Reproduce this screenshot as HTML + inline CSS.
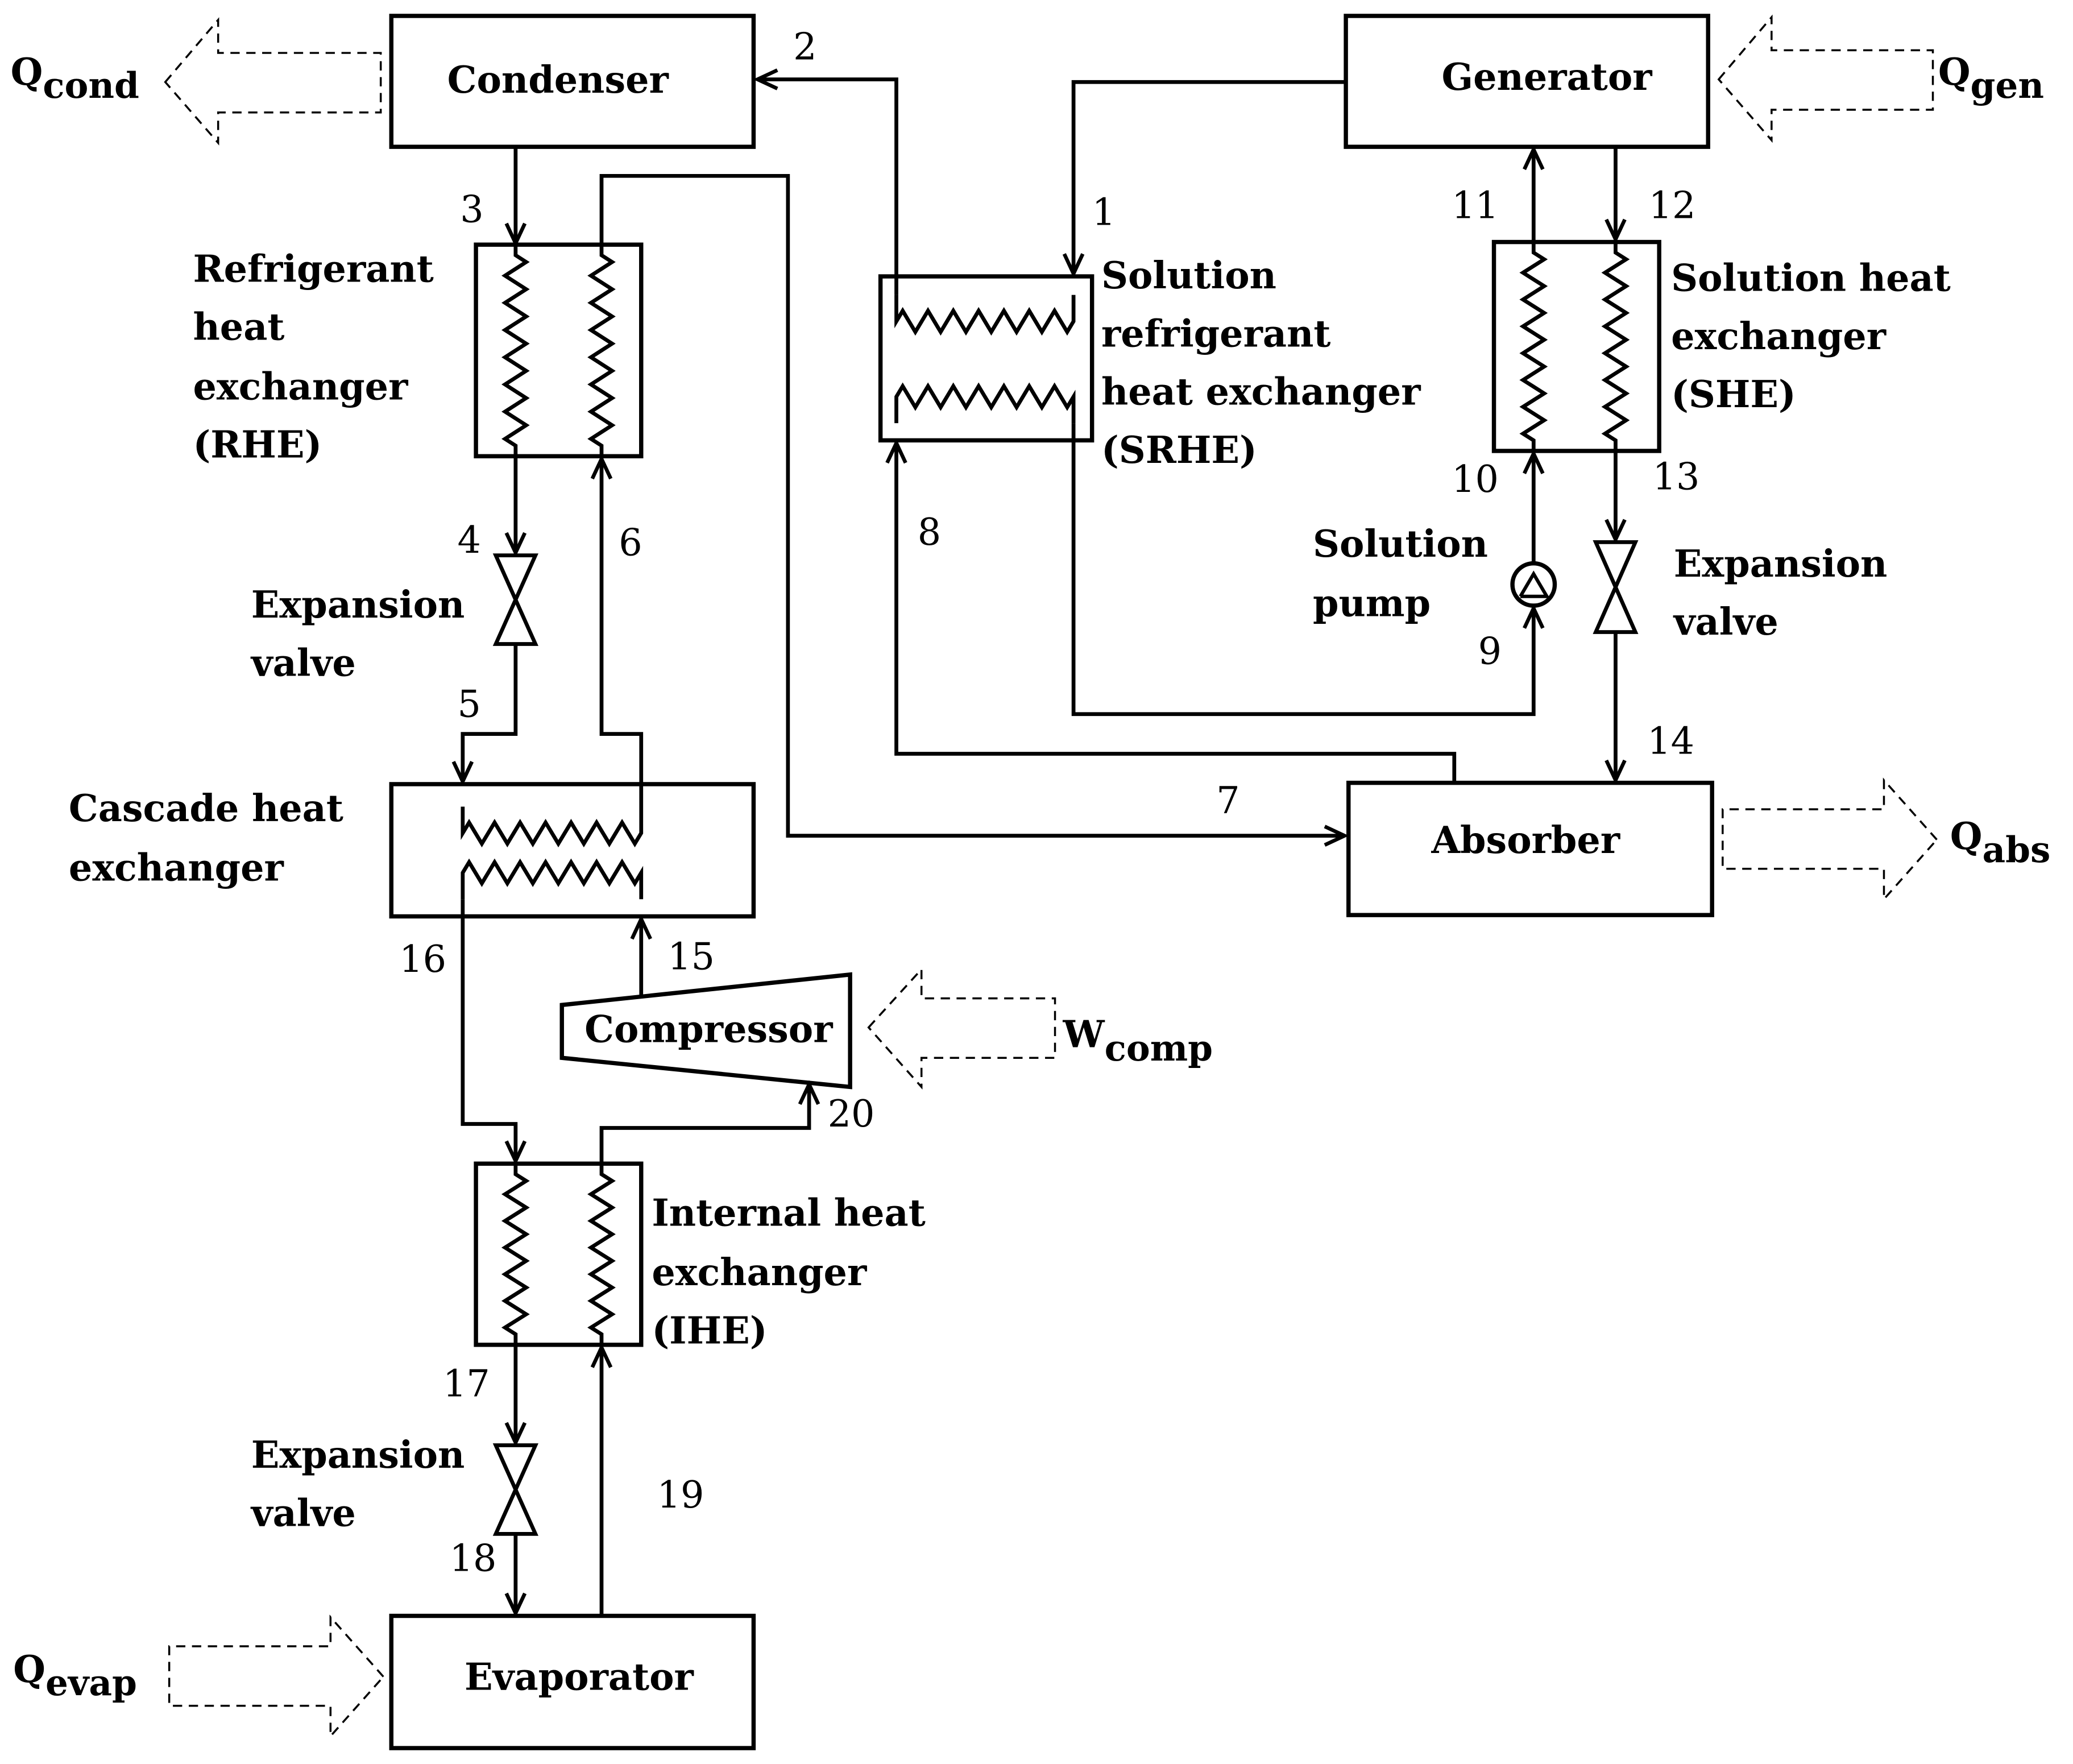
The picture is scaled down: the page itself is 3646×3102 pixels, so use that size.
<!DOCTYPE html>
<html><head><meta charset="utf-8"><style>
html,body{margin:0;padding:0;background:#fff;}
svg{display:block;}
text{font-family:"DejaVu Serif","Liberation Serif",serif;fill:#000;}
.lb{font-weight:bold;font-size:28px;}
.n{font-size:28px;}
</style></head><body>
<svg id="s" width="3646" height="3102" viewBox="0 0 1568 1334" xmlns="http://www.w3.org/2000/svg">
<defs>
<marker id="a" markerWidth="20" markerHeight="20" refX="17" refY="10" orient="auto" markerUnits="userSpaceOnUse">
<polyline points="2,3 17,10 2,17" fill="none" stroke="#000" stroke-width="2.8"/>
</marker>
</defs>
<g fill="none" stroke="#000" stroke-width="3.2">
<rect x="296" y="12" width="274" height="99"/>
<rect x="1018" y="12" width="274" height="99"/>
<rect x="360" y="185" width="125" height="160"/>
<rect x="296" y="593" width="274" height="100"/>
<rect x="360" y="880" width="125" height="137"/>
<rect x="296" y="1222" width="274" height="100"/>
<rect x="666" y="209" width="160" height="124"/>
<rect x="1130" y="183" width="125" height="158"/>
<rect x="1020" y="592" width="275" height="100"/>
<polygon points="425,760 643,737 643,822 425,800"/>
<circle cx="1160" cy="442" r="16"/>
</g>
<g fill="none" stroke="#000" stroke-width="2.6">
<polyline points="1150,451 1160,434 1170,451 1150,451"/>
</g>
<g id="lines" fill="none" stroke="#000" stroke-width="2.9"></g>
<g fill="none" stroke="#000" stroke-width="1.5" stroke-dasharray="7,5">
<polygon points="125,62 165,15 165,40 288,40 288,85 165,85 165,108"/>
<polygon points="1300,60 1340,13 1340,38 1462,38 1462,83 1340,83 1340,106"/>
<polygon points="657,777 697,733 697,755 798,755 798,800 697,800 697,822"/>
<polygon points="1465,635 1425,590 1425,612 1303,612 1303,657 1425,657 1425,680"/>
<polygon points="290,1268 250,1223 250,1245 128,1245 128,1290 250,1290 250,1313"/>
</g>
<text class="lb" x="422" y="70" text-anchor="middle">Condenser</text>
<text class="lb" x="1170" y="68" text-anchor="middle">Generator</text>
<text class="lb" x="1154" y="645" text-anchor="middle">Absorber</text>
<text class="lb" x="438" y="1278" text-anchor="middle">Evaporator</text>
<text class="lb" x="536" y="788" text-anchor="middle" font-size="26">Compressor</text>
<text class="lb" x="146" y="213">Refrigerant</text>
<text class="lb" x="146" y="257">heat</text>
<text class="lb" x="146" y="302">exchanger</text>
<text class="lb" x="146" y="346">(RHE)</text>
<text class="lb" x="190" y="467">Expansion</text>
<text class="lb" x="190" y="511">valve</text>
<text class="lb" x="52" y="621">Cascade heat</text>
<text class="lb" x="52" y="666">exchanger</text>
<text class="lb" x="493" y="927">Internal heat</text>
<text class="lb" x="493" y="972">exchanger</text>
<text class="lb" x="493" y="1016">(IHE)</text>
<text class="lb" x="190" y="1110">Expansion</text>
<text class="lb" x="190" y="1154">valve</text>
<text class="lb" x="833" y="218">Solution</text>
<text class="lb" x="833" y="262">refrigerant</text>
<text class="lb" x="833" y="306">heat exchanger</text>
<text class="lb" x="833" y="350">(SRHE)</text>
<text class="lb" x="1264" y="220">Solution heat</text>
<text class="lb" x="1264" y="264">exchanger</text>
<text class="lb" x="1264" y="308">(SHE)</text>
<text class="lb" x="993" y="421">Solution</text>
<text class="lb" x="993" y="466">pump</text>
<text class="lb" x="1266" y="436">Expansion</text>
<text class="lb" x="1266" y="480">valve</text>
<text class="lb" font-size="32" x="8" y="64">Q<tspan font-size="27" dy="10">cond</tspan></text>
<text class="lb" font-size="32" x="1466" y="64">Q<tspan font-size="27" dy="10">gen</tspan></text>
<text class="lb" font-size="32" x="1475" y="642">Q<tspan font-size="27" dy="10">abs</tspan></text>
<text class="lb" font-size="32" x="804" y="792">W<tspan font-size="27" dy="10">comp</tspan></text>
<text class="lb" font-size="32" x="10" y="1272">Q<tspan font-size="27" dy="10">evap</tspan></text>
<g class="n">
<text class="n" x="600" y="45">2</text>
<text class="n" x="348" y="168">3</text>
<text class="n" x="826" y="170">1</text>
<text class="n" x="1098" y="165">11</text>
<text class="n" x="1247" y="165">12</text>
<text class="n" x="346" y="418">4</text>
<text class="n" x="468" y="420">6</text>
<text class="n" x="694" y="412">8</text>
<text class="n" x="1098" y="372">10</text>
<text class="n" x="1250" y="370">13</text>
<text class="n" x="1118" y="502">9</text>
<text class="n" x="346" y="542">5</text>
<text class="n" x="1246" y="570">14</text>
<text class="n" x="920" y="615">7</text>
<text class="n" x="302" y="735">16</text>
<text class="n" x="505" y="733">15</text>
<text class="n" x="626" y="852">20</text>
<text class="n" x="335" y="1056">17</text>
<text class="n" x="497" y="1140">19</text>
<text class="n" x="340" y="1188">18</text>
</g>
</svg>
<script>
var g=document.getElementById('lines');
function P(pts,arrow){var p=document.createElementNS('http://www.w3.org/2000/svg','polyline');p.setAttribute('points',pts);if(arrow)p.setAttribute('marker-end','url(#a)');g.appendChild(p);}
function vz(x,y1,y2,n){var s=x+','+y1+' ',h=(y2-y1-16)/(n*2);s+=x+','+(y1+8)+' ';var y=y1+8;for(var i=0;i<n*2;i++){y+=h;s+=(x+(i%2?-8:8))+','+(y-h/2)+' '+x+','+y+' ';}s+=x+','+y2;P(s);}
function hz(y,x1,x2,n,up){var s=x1+','+(up?y-20:y+20)+' '+x1+','+y+' ',w=(x2-x1)/(n*2),x=x1;for(var i=0;i<n*2;i++){x+=w;s+=(x-w/2)+','+(y+(i%2?8:-8))+' '+x+','+y+' ';}s+=x2+','+(up?y-20:y+20);P(s);}
vz(390,185,345,7);vz(455,185,345,7);
vz(390,880,1017,6);vz(455,880,1017,6);
vz(1160,183,341,7);vz(1222,183,341,7);
hz(630,350,485,7,true);hz(660,350,485,7,false);
hz(243,678,812,7,true);hz(300,678,812,7,false);
P('390,111 390,184',1);
P('455,185 455,133 596,133 596,632 1017,632',1);
P('390,345 390,418',1);
P('390,488 390,555 350,555 350,591',1);
P('485,610 485,555 455,555 455,347',1);
P('350,680 350,850 390,850 390,878',1);
P('485,755 485,695',1);
P('455,880 455,853 612,853 612,820',1);
P('390,1017 390,1091',1);
P('390,1160 390,1220',1);
P('455,1222 455,1019',1);
P('678,223 678,60 573,60',1);
P('1018,62 812,62 812,207',1);
P('812,320 812,540 1160,540 1160,460',1);
P('1100,592 1100,570 678,570 678,335',1);
P('1160,426 1160,343',1);
P('1160,183 1160,113',1);
P('1222,111 1222,181',1);
P('1222,341 1222,408',1);
P('1222,478 1222,590',1);
function valve(x,y1,y2){var p=document.createElementNS('http://www.w3.org/2000/svg','polygon');p.setAttribute('points',(x-15)+','+y1+' '+(x+15)+','+y1+' '+(x-15)+','+y2+' '+(x+15)+','+y2);g.appendChild(p);}
valve(390,420,487);valve(390,1093,1160);valve(1222,410,478);
</script>
</body></html>
